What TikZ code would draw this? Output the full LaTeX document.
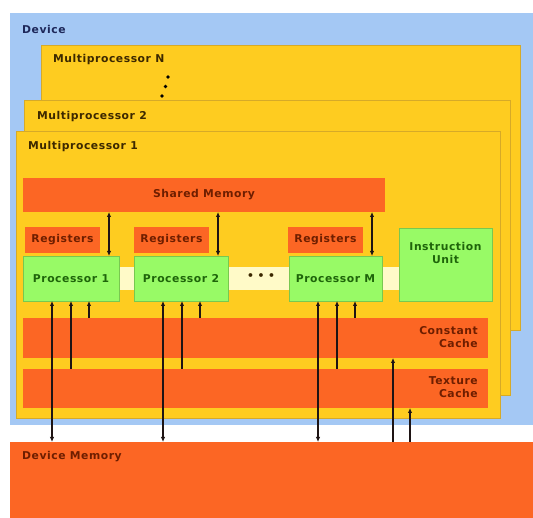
\documentclass[tikz,border=0pt]{standalone}
\usepackage{fontspec}
\setmainfont{DejaVu Sans}
\newfontfamily\lblfont[LetterSpace=5]{DejaVu Sans}
\usetikzlibrary{arrows.meta,calc}
\definecolor{devblue}{RGB}{164,200,244}
\definecolor{mpyel}{RGB}{254,204,32}
\definecolor{mpedge}{RGB}{214,170,40}
\definecolor{org}{RGB}{252,102,36}
\definecolor{grn}{RGB}{152,250,102}
\definecolor{grnedge}{RGB}{120,200,80}
\definecolor{cream}{RGB}{255,250,200}
\definecolor{navy}{RGB}{30,40,90}
\definecolor{brown}{RGB}{60,40,0}
\definecolor{redtxt}{RGB}{110,30,0}
\definecolor{grntxt}{RGB}{30,100,10}
\definecolor{arr}{RGB}{30,20,20}
\tikzset{
  boxx/.style={rectangle,inner sep=0pt,outer sep=0pt,anchor=north west},
  mpbox/.style={boxx,fill=mpyel,draw=mpedge,line width=0.8pt},
  orgbox/.style={boxx,fill=org},
  grnbox/.style={boxx,fill=grn,draw=grnedge,line width=0.6pt},
  lbl/.style={inner sep=0pt,font=\lblfont\fontsize{10.8}{13}\selectfont\bfseries},
  dblarr/.style={draw=arr,line width=1.1pt,{Latex[length=5pt,width=4.5pt]}-{Latex[length=5pt,width=4.5pt]}},
  uparr/.style={draw=arr,line width=1.1pt,-{Latex[length=5pt,width=4.5pt]}},
}
\begin{document}
\begin{tikzpicture}[x=1pt,y=-1pt]
\useasboundingbox (0,0) rectangle (533,518);
\fill[white] (0,0) rectangle (533,518);
% device
\node[boxx,fill=devblue,minimum width=523pt,minimum height=412pt] (dev) at (10,13) {};
\node[lbl,anchor=west,text=navy] (devl) at (22,29) {Device};
% multiprocessors
\node[mpbox,minimum width=479pt,minimum height=285pt] (mpn) at (41,45) {};
\node[lbl,anchor=west,text=brown] (mpnl) at (53,60) {Multiprocessor N};
\fill[black] (168,77) circle (1.8) (165.5,86.5) circle (1.8) (162,96) circle (1.8);
\node[mpbox,minimum width=486pt,minimum height=295pt] (mp2) at (24,100) {};
\node[lbl,anchor=west,text=brown] (mp2l) at (37,117) {Multiprocessor 2};
\node[mpbox,minimum width=484pt,minimum height=287pt] (mp1) at (16,131) {};
\node[lbl,anchor=west,text=brown] (mp1l) at (28,147) {Multiprocessor 1};
% shared memory
\node[orgbox,minimum width=362pt,minimum height=34pt] (shm) at (23,178) {};
\node[lbl,text=redtxt] (shml) at (shm.center) {Shared Memory};
% registers
\node[orgbox,minimum width=75pt,minimum height=26pt] (reg1) at (25,227) {};
\node[lbl,text=redtxt] (reg1l) at (reg1.center) {Registers};
\node[orgbox,minimum width=75pt,minimum height=26pt] (reg2) at (134,227) {};
\node[lbl,text=redtxt] (reg2l) at (reg2.center) {Registers};
\node[orgbox,minimum width=75pt,minimum height=26pt] (regm) at (288,227) {};
\node[lbl,text=redtxt] (regml) at (regm.center) {Registers};
% cream bar
\node[boxx,fill=cream,minimum width=280pt,minimum height=23pt] (bar) at (119,267) {};
\node[lbl,text=brown] (dots) at (261,277) {•\,\,•\,\,•};
% processors
\node[grnbox,minimum width=96pt,minimum height=45pt] (p1) at (23,256) {};
\node[lbl,text=grntxt] (p1l) at (p1.center) {Processor 1};
\node[grnbox,minimum width=94pt,minimum height=45pt] (p2) at (134,256) {};
\node[lbl,text=grntxt] (p2l) at (p2.center) {Processor 2};
\node[grnbox,minimum width=93pt,minimum height=45pt] (pm) at (289,256) {};
\node[lbl,text=grntxt] (pml) at (pm.center) {Processor M};
\node[grnbox,minimum width=93pt,minimum height=73pt] (iu) at (399,228) {};
\node[lbl,text=grntxt,align=center,anchor=north] (iul) at ($(iu.north)+(0,14)$) {Instruction\\Unit};
% caches
\node[orgbox,minimum width=465pt,minimum height=40pt] (cc) at (23,318) {};
\node[lbl,text=redtxt,align=right,anchor=east] (ccl) at (478,337) {Constant\\Cache};
\node[orgbox,minimum width=465pt,minimum height=39pt] (tc) at (23,369) {};
\node[lbl,text=redtxt,align=right,anchor=east] (tcl) at (478,387) {Texture\\Cache};
% device memory
\node[orgbox,minimum width=523pt,minimum height=76pt] (dm) at (10,442) {};
\node[lbl,anchor=west,text=redtxt] (dml) at (22,457) {Device Memory};
% arrows
\foreach \p in {p1,p2,pm}{
  \draw[dblarr] ([xshift=-10pt]\p.north east) -- ([xshift=-10pt]\p.north east |- shm.south);
  \draw[dblarr] ([xshift=29pt]\p.south west) -- ([xshift=29pt]\p.south west |- dm.north);
  \draw[uparr] ([xshift=48pt]\p.south west |- tc.north) -- ([xshift=48pt]\p.south west);
  \draw[uparr] ([xshift=66pt]\p.south west |- cc.north) -- ([xshift=66pt]\p.south west);
}
\coordinate (ca) at (393,0);
\coordinate (tx) at (410,0);
\draw[uparr] (ca |- dm.north) -- (ca |- cc.south);
\draw[uparr] (tx |- dm.north) -- (tx |- tc.south);
\end{tikzpicture}
\end{document}
